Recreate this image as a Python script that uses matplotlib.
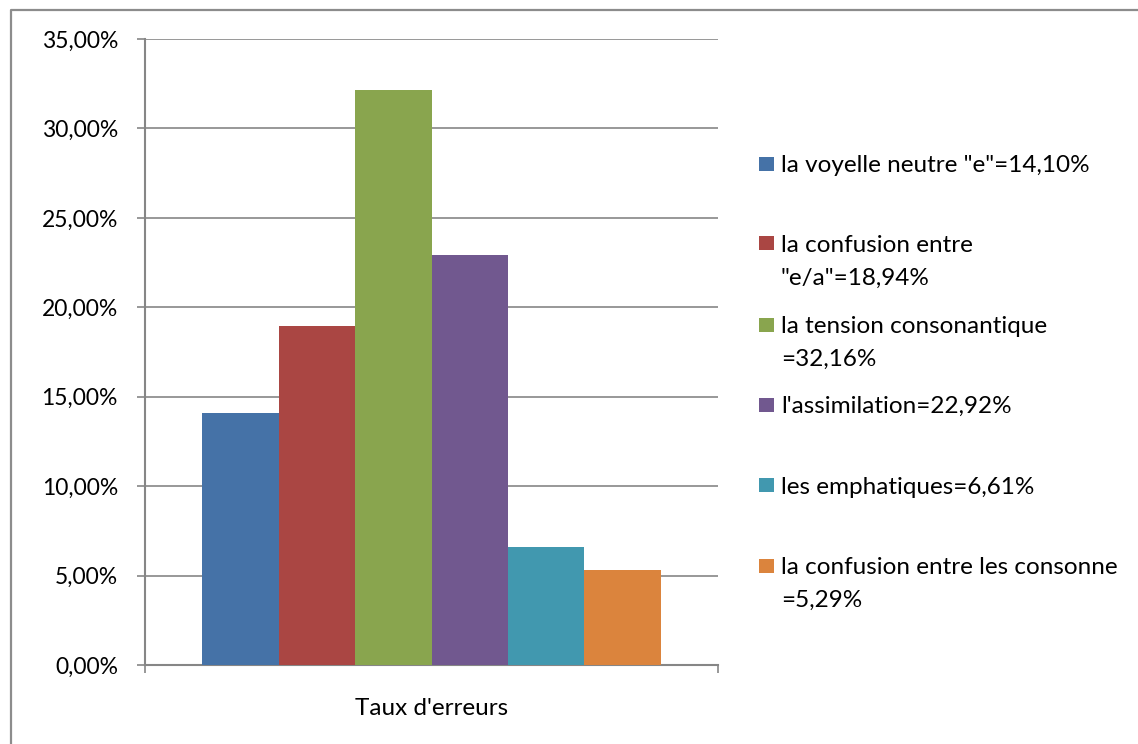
import matplotlib
matplotlib.use("Agg")
import matplotlib.pyplot as plt
from matplotlib.patches import Rectangle
from matplotlib.lines import Line2D
from matplotlib.ticker import FuncFormatter

plt.rcParams['font.family'] = ['Lato', 'DejaVu Sans']

category = "Taux d'erreurs"
series_labels = [
    'la voyelle neutre "e"=14,10%',
    'la confusion entre\n"e/a"=18,94%',
    'la tension consonantique\n=32,16%',
    "l'assimilation=22,92%",
    'les emphatiques=6,61%',
    'la confusion entre les consonne\n=5,29%',
]
values = [14.10, 18.94, 32.16, 22.92, 6.61, 5.29]
colors = ['#4572A7', '#AA4643', '#89A54E', '#71588F', '#4198AF', '#DB843D']
yticks = [0, 5, 10, 15, 20, 25, 30, 35]

W, H = 1138, 744
fig = plt.figure(figsize=(W / 100, H / 100), dpi=100)
ax = fig.add_axes([145 / W, 1 - 665 / H, (718 - 145) / W, (665 - 39) / H])

n = len(values)
group = 0.801
bw = group / n
for i, (v, c) in enumerate(zip(values, colors)):
    ax.bar(-group / 2 + bw * (i + 0.5), v, width=bw, color=c, linewidth=0, zorder=3)

ax.set_xlim(-0.5, 0.5)
ax.set_ylim(0, 35)
ax.set_yticks(yticks)
ax.yaxis.set_major_formatter(FuncFormatter(lambda v, p: f"{v:.2f}".replace('.', ',') + '%'))
gray = '#868686'
ax.grid(axis='y', color=gray, linewidth=1.2, zorder=0)
ax.set_axisbelow(True)
for s in ['top', 'right']:
    ax.spines[s].set_visible(False)
for s in ['left', 'bottom']:
    ax.spines[s].set_color(gray)
    ax.spines[s].set_linewidth(1.5)
ax.tick_params(axis='y', length=6, width=1.2, color=gray, pad=13.5, labelsize=16.5, labelcolor='black')
ax.set_xticks([-0.5, 0.5])
ax.set_xticklabels(['', ''])
ax.tick_params(axis='x', which='major', length=6, width=1.2, color=gray)
ax.set_xticks([0], minor=True)
ax.set_xticklabels([category], minor=True)
ax.tick_params(axis='x', which='minor', length=0, pad=24, labelsize=17.5)

# legend
ys = [164, 243, 324.7, 404.7, 485, 565.5]
line_gap = 33
for lab, c, y in zip(series_labels, colors, ys):
    fig.patches.append(Rectangle((759 / W, 1 - (y + 7) / H), 15 / W, 14 / H,
                                 transform=fig.transFigure, facecolor=c, edgecolor='none'))
    for k, line in enumerate(lab.split('\n')):
        fig.text(781 / W, 1 - (y + k * line_gap) / H, line, fontsize=17.5,
                 va='center_baseline', ha='left', transform=fig.transFigure)

# outer frame (top/left)
fig.lines.append(Line2D([10.5 / W, 10.5 / W, 1.0], [0, 1 - 9.5 / H, 1 - 9.5 / H],
                        transform=fig.transFigure, color='#8c8c8c', linewidth=1.6))

fig.savefig('out.png', dpi=100)
